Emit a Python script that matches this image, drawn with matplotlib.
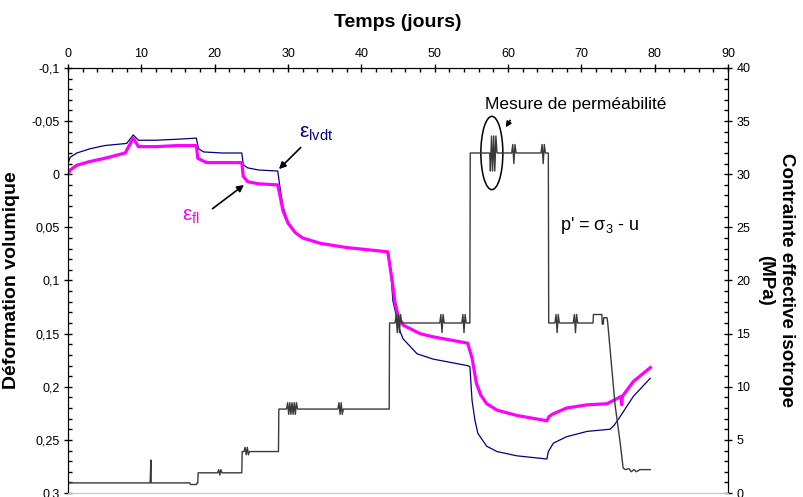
import matplotlib
matplotlib.use("Agg")
import matplotlib.pyplot as plt
from matplotlib.patches import Ellipse
from matplotlib.ticker import MultipleLocator, FuncFormatter

plt.rcParams['font.family'] = ['Liberation Sans', 'DejaVu Sans']
plt.rcParams['mathtext.fontset'] = 'custom'
plt.rcParams['mathtext.rm'] = 'Liberation Sans'
plt.rcParams['mathtext.it'] = 'Liberation Sans'

# epsilon lvdt (blue)
t_lvdt = [0.0, 0.3, 1.2, 3, 5, 8.0, 8.9, 9.6, 12, 15, 17.5, 17.8, 18.5, 21, 23.7,
          23.9, 24.5, 26, 28.6, 28.9, 29.3, 30, 31, 32, 34.4, 38, 43.7, 44.0, 44.3,
          44.9, 45.3, 45.7, 47.6, 49.8, 54.4, 54.8, 55.1, 55.5, 55.9, 57.1, 58.5,
          61.2, 65.3, 65.5, 66.2, 68, 70.8, 73.9, 74.5, 75.3, 77.1, 79.4]
eps_lvdt = [-0.010, -0.016, -0.020, -0.024, -0.027, -0.029, -0.037, -0.032, -0.032,
            -0.033, -0.034, -0.024, -0.021, -0.020, -0.020, -0.009, -0.006, -0.004,
            -0.003, 0.012, 0.030, 0.045, 0.055, 0.060, 0.065, 0.069, 0.073, 0.090,
            0.119, 0.137, 0.148, 0.155, 0.169, 0.174, 0.180, 0.181, 0.213, 0.232,
            0.244, 0.256, 0.261, 0.265, 0.268, 0.261, 0.253, 0.247, 0.242, 0.240,
            0.236, 0.228, 0.209, 0.192]

# epsilon fl (magenta)
t_fl = [0.0, 0.3, 1.2, 3, 5, 7.8, 8.9, 9.6, 12, 15, 17.5, 17.7, 18.9, 21, 23.7,
        23.9, 24.5, 26, 28.6, 28.9, 29.3, 30, 31, 32, 34.4, 38, 43.6, 44.2, 44.6,
        45.0, 45.7, 48, 49.8, 54.5, 55.1, 55.7, 56.3, 57.1, 58.5, 61.2, 65.3, 65.6,
        66, 68, 70.8, 73.5, 74.9, 75.4, 75.5, 75.6, 77.1, 79.4]
eps_fl = [0.000, -0.004, -0.0085, -0.012, -0.015, -0.020, -0.034, -0.026, -0.026,
          -0.027, -0.027, -0.015, -0.011, -0.011, -0.011, 0.002, 0.007, 0.009, 0.010,
          0.020, 0.034, 0.046, 0.055, 0.060, 0.065, 0.069, 0.073, 0.100, 0.121, 0.133,
          0.142, 0.150, 0.153, 0.159, 0.173, 0.197, 0.208, 0.216, 0.222, 0.227, 0.232,
          0.228, 0.226, 0.220, 0.217, 0.216, 0.211, 0.209, 0.217, 0.209, 0.195, 0.182]

# effective isotropic stress p' (MPa)
t_p = [0, 11.2, 11.3, 11.35, 16.6, 16.7, 17.5, 17.6, 17.7, 17.75,
       20.4, 20.55, 20.7, 20.85, 21.0, 23.7, 23.75,
       24.0, 24.15, 24.3, 24.45, 24.6, 24.75, 28.7, 28.75,
       29.8, 29.95, 30.1, 30.25, 30.4, 30.55, 30.7, 30.85, 31.0, 31.15, 31.3, 31.9,
       36.8, 36.95, 37.1, 37.25, 37.4, 37.55, 43.8, 43.85,
       44.6, 44.75, 44.9, 45.05, 45.2, 45.35, 45.5, 50.7, 50.85, 51.0, 51.15,
       51.3, 53.7, 53.85, 54.0, 54.15, 54.3, 54.8, 54.85,
       57.5, 57.6, 57.75, 57.9, 58.05, 58.2, 58.35, 58.5, 60.5, 60.65, 60.8, 60.95,
       61.1, 64.5, 64.65, 64.8, 64.95, 65.1, 65.5, 65.55,
       66.4, 66.55, 66.7, 66.85, 67.0, 68.9, 69.05, 69.2, 69.35, 69.5,
       71.6, 71.65, 72.8, 72.85, 73.0, 73.05, 73.5, 73.6, 74.6, 75.3, 75.7,
       76.0, 76.5, 76.8, 77.2, 77.5, 78.0, 79.4]
p_eff = [0.95, 0.95, 3.1, 0.95, 0.95, 0.8, 0.8, 0.95, 0.95, 1.9,
         1.9, 2.2, 1.7, 2.2, 1.9, 1.9, 3.9,
         3.9, 4.3, 3.6, 4.3, 3.6, 3.9, 3.9, 7.9,
         7.9, 8.5, 7.4, 8.5, 7.4, 8.5, 7.4, 8.5, 7.4, 8.5, 7.9, 7.9,
         7.9, 8.5, 7.4, 8.5, 7.4, 7.9, 7.9, 16.0,
         16.0, 16.8, 15.1, 16.8, 15.1, 16.8, 16.0, 16.0, 16.8, 15.1, 16.8,
         16.0, 16.0, 16.8, 15.1, 16.8, 16.0, 16.0, 32.0,
         32.0, 30.3, 33.6, 30.3, 33.6, 30.3, 33.6, 32.0, 32.0, 32.8, 31.0, 32.8,
         32.0, 32.0, 32.8, 31.0, 32.8, 32.0, 32.0, 16.0,
         16.0, 16.8, 15.1, 16.8, 16.0, 16.0, 16.8, 15.1, 16.8, 16.0,
         16.0, 16.8, 16.8, 15.9, 15.9, 16.5, 16.5, 16.0, 8.3, 4.7, 2.35,
         2.2, 2.3, 2.0, 2.2, 2.0, 2.2, 2.2]

x_ticks = [0, 10, 20, 30, 40, 50, 60, 70, 80, 90]

fig = plt.figure(figsize=(8.04, 4.97), dpi=100)
ax = fig.add_axes([68 / 804, 4 / 497, 660 / 804, 425 / 497])
ax2 = ax.twinx()

ax.plot(t_lvdt, eps_lvdt, color='#000080', lw=0.9, zorder=2)
ax.plot(t_fl, eps_fl, color='#ff00ff', lw=2.3, zorder=3)
ax2.plot(t_p, p_eff, color='#3a3a3a', lw=1.0)

ax.set_xlim(0, 90)
ax.set_ylim(0.3, -0.1)
ax2.set_ylim(0, 40)

comma = FuncFormatter(lambda v, p: ('%g' % round(v, 3)).replace('.', ','))
ax.xaxis.tick_top()
ax.xaxis.set_label_position('top')
ax.set_xticks(x_ticks)
ax.xaxis.set_minor_locator(MultipleLocator(2))
ax.yaxis.set_major_locator(MultipleLocator(0.05))
ax.yaxis.set_minor_locator(MultipleLocator(0.01))
ax.yaxis.set_major_formatter(comma)
ax2.yaxis.set_major_locator(MultipleLocator(5))
ax2.yaxis.set_minor_locator(MultipleLocator(1))

for a in (ax, ax2):
    a.tick_params(which='major', direction='inout', length=6, width=1, labelsize=9, pad=3)
    a.tick_params(which='minor', direction='in', length=3, width=1)
ax.tick_params(axis='x', which='both', top=True, bottom=False)
ax2.tick_params(axis='x', which='both', top=False, bottom=False)

ax.spines['bottom'].set_color('#c8c8c8')
ax2.spines['bottom'].set_color('#c8c8c8')

ax.set_xlabel('Temps (jours)', fontsize=14, fontweight='bold', labelpad=15)
ax.set_ylabel('Déformation volumique', fontsize=14, fontweight='bold', labelpad=8)
ax2.set_ylabel('Contrainte effective isotrope\n(MPa)', fontsize=13.5, fontweight='bold',
               rotation=270, labelpad=32, linespacing=1.25)

# annotations
ax.text(31.5, -0.038, r'ε$_{\mathrm{lvdt}}$', color='#000080', fontsize=15, va='center')
ax.annotate('', xy=(28.5, -0.003), xytext=(32.0, -0.027),
            arrowprops=dict(arrowstyle='-|>', color='black', lw=1.2, mutation_scale=10))
ax.text(15.6, 0.040, r'ε$_{\mathrm{fl}}$', color='#ff00ff', fontsize=15, va='center')
ax.annotate('', xy=(24.3, 0.0085), xytext=(19.4, 0.034),
            arrowprops=dict(arrowstyle='-|>', color='black', lw=1.2, mutation_scale=10))

ax2.add_patch(Ellipse((57.8, 32.0), 3.0, 6.9, fill=False, edgecolor='black', lw=1.1))
ax2.text(56.9, 36.6, 'Mesure de perméabilité', fontsize=12.5, va='center')
ax2.annotate('', xy=(59.5, 34.2), xytext=(60.5, 35.3),
             arrowprops=dict(arrowstyle='-|>', color='black', lw=1.1, mutation_scale=8))
ax2.text(67.1, 25.2, r"p' = σ$_3$ - u", fontsize=13, va='center')

fig.savefig('out.png', dpi=100)
